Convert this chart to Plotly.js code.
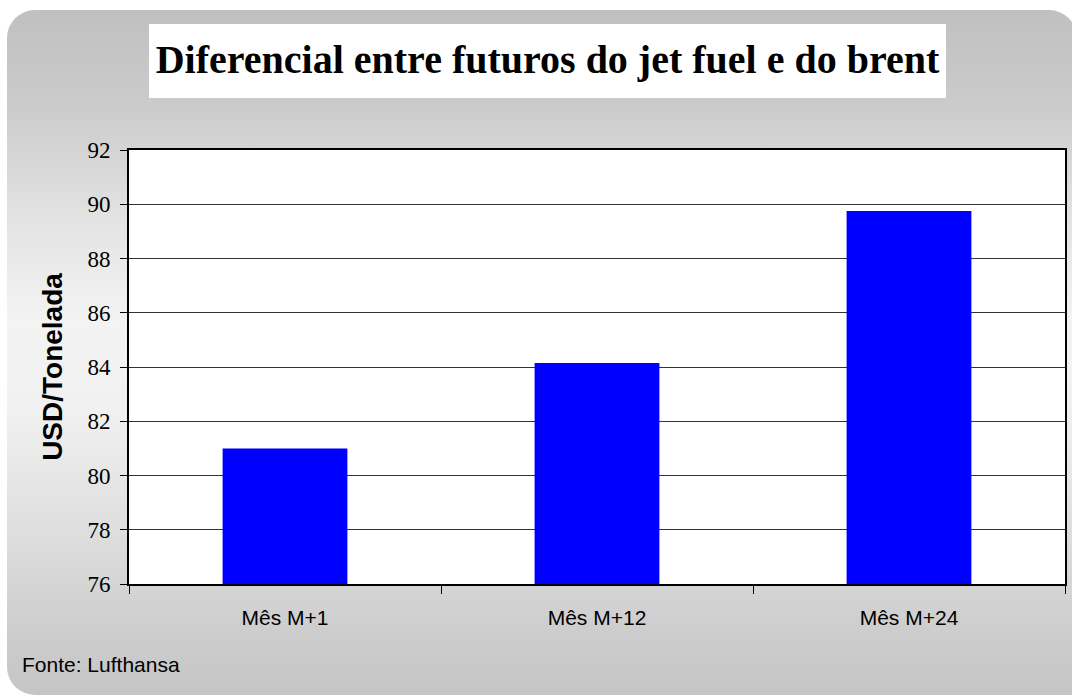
<!DOCTYPE html>
<html>
<head>
<meta charset="utf-8">
<script src="https://cdn.plot.ly/plotly-3.0.1.min.js"></script>
<style>
  html, body { margin: 0; padding: 0; background: #ffffff; }
  #wrap { position: relative; width: 1072px; height: 697px; overflow: hidden; background: #ffffff; }
  #bg { position: absolute; left: 7px; top: 10px; width: 1070px; height: 685px;
        border-radius: 28px 28px 0 28px;
        background: linear-gradient(to bottom, #c0c0c0 0%, #cbcbcb 14%, #e2e2e2 30%, #f3f3f3 45%, #f1f1f1 58%, #dcdcdc 78%, #cecece 90%, #c5c5c5 100%); }
  #chart { position: absolute; left: 0; top: 0; width: 1072px; height: 697px; }
</style>
</head>
<body>
<div id="wrap">
  <div id="bg"></div>
  <div id="chart"></div>
</div>
<script>
const categories = ["Mês M+1", "Mês M+12", "Mês M+24"];
const values = [81.0, 84.15, 89.75];
const yTicks = [76, 78, 80, 82, 84, 86, 88, 90, 92];
const chartTitle = "Diferencial entre futuros do jet fuel e do brent";
const yTitle = "USD/Tonelada";
const sourceNote = "Fonte: Lufthansa";

const W = 1072, H = 697;
const mL = 129, mR = 7, mT = 150, mB = 113;
const pw = W - mL - mR, ph = H - mT - mB;
const px = v => (v - mL) / pw;
const py = v => (H - mB - v) / ph;

const trace = {
  type: "bar",
  x: categories,
  y: values,
  marker: { color: "#0000ff", line: { width: 0 } },
  hoverinfo: "x+y"
};

const layout = {
  width: W, height: H,
  margin: { l: mL, r: mR, t: mT, b: mB, pad: 0 },
  paper_bgcolor: "rgba(0,0,0,0)",
  plot_bgcolor: "#ffffff",
  showlegend: false,
  bargap: 0.6,
  title: {
    text: "<b>" + chartTitle + "</b>",
    font: { family: "Liberation Serif, Times New Roman, serif", size: 40, color: "#000000" },
    xref: "container", yref: "container",
    x: 547.5 / W, y: 1 - 59 / H, xanchor: "center", yanchor: "middle"
  },
  shapes: [{
    type: "rect", xref: "paper", yref: "paper", layer: "below",
    x0: px(149), x1: px(946), y0: py(98), y1: py(24),
    fillcolor: "#ffffff", line: { width: 0 }
  }],
  xaxis: {
    type: "category",
    tickson: "boundaries",
    ticks: "outside", ticklen: 8, tickwidth: 1, tickcolor: "#000000",
    ticklabelstandoff: 14,
    showgrid: false,
    showline: true, mirror: true, linecolor: "#000000", linewidth: 2,
    tickfont: { family: "Liberation Sans, Arial, sans-serif", size: 21, color: "#000000" },
    fixedrange: true
  },
  yaxis: {
    range: [76, 92],
    tickvals: yTicks,
    ticktext: yTicks.map(String),
    ticks: "outside", ticklen: 7, tickwidth: 1, tickcolor: "#000000",
    ticklabelstandoff: 5,
    showgrid: true, gridcolor: "#333333", gridwidth: 1,
    zeroline: false,
    showline: true, mirror: true, linecolor: "#000000", linewidth: 2,
    tickfont: { family: "Liberation Serif, Times New Roman, serif", size: 23, color: "#000000" },
    title: {
      text: "<b>" + yTitle + "</b>",
      font: { family: "Liberation Sans, Arial, sans-serif", size: 28, color: "#000000" }
    },
    fixedrange: true
  },
  annotations: [{
    text: sourceNote,
    xref: "paper", yref: "paper",
    x: px(20), y: py(664), xanchor: "left", yanchor: "middle",
    showarrow: false,
    font: { family: "Liberation Sans, Arial, sans-serif", size: 21, color: "#000000" }
  }]
};

Plotly.newPlot("chart", [trace], layout, { displayModeBar: false, staticPlot: true });
</script>
</body>
</html>
